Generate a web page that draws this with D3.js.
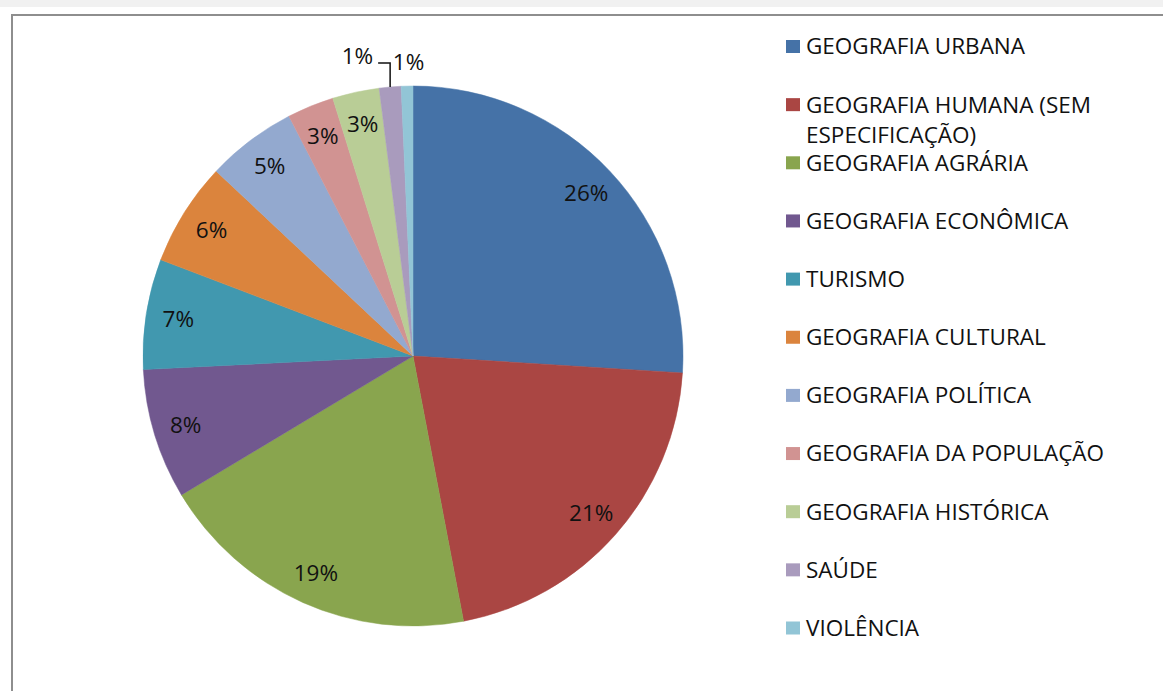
<!DOCTYPE html>
<html>
<head>
<meta charset="utf-8">
<script src="https://cdn.jsdelivr.net/npm/d3@7"></script>
<style>
  body { margin: 0; background: #fff; }
  svg { display: block; }
</style>
</head>
<body>
<div id="chart"></div>
<script>
// data (percent of total)
var categories = ["GEOGRAFIA URBANA", "GEOGRAFIA HUMANA (SEM ESPECIFICAÇÃO)", "GEOGRAFIA AGRÁRIA",
    "GEOGRAFIA ECONÔMICA", "TURISMO", "GEOGRAFIA CULTURAL", "GEOGRAFIA POLÍTICA",
    "GEOGRAFIA DA POPULAÇÃO", "GEOGRAFIA HISTÓRICA", "SAÚDE", "VIOLÊNCIA"]
var legend_lines = [["GEOGRAFIA URBANA"], ["GEOGRAFIA HUMANA (SEM", "ESPECIFICAÇÃO)"], ["GEOGRAFIA AGRÁRIA"],
    ["GEOGRAFIA ECONÔMICA"], ["TURISMO"], ["GEOGRAFIA CULTURAL"], ["GEOGRAFIA POLÍTICA"],
    ["GEOGRAFIA DA POPULAÇÃO"], ["GEOGRAFIA HISTÓRICA"], ["SAÚDE"], ["VIOLÊNCIA"]]
var values = [26.0, 21.0, 19.4, 7.8, 6.6, 6.2, 5.4, 2.8, 2.8, 1.3, 0.7]
var colors = ["#4572a7", "#aa4643", "#89a54e", "#71588f", "#4198af", "#db843d",
    "#93a9cf", "#d19392", "#b9cd96", "#a99bbd", "#92c5d6"]

var W = 1163, H = 691
var font = "'Open Sans', 'DejaVu Sans', sans-serif"
var font_size = 22.5

var svg = d3.select("#chart").append("svg")
    .attr("width", W)
    .attr("height", H)

// window chrome + chart frame
svg.append("rect").attr("x", 0).attr("y", 0).attr("width", W).attr("height", 7).attr("fill", "#f1f1f1")
svg.append("rect")
    .attr("x", 12).attr("y", 15)
    .attr("width", W + 20).attr("height", H + 20)
    .attr("fill", "#fff")
    .attr("stroke", "#8e8e8e")
    .attr("stroke-width", 2)

// PIE
var cx = 413, cy = 356, radius = 270
var label_r = radius * 0.88

var pie = d3.pie().sort(null).value(function(d){ return d })
var arcs = pie(values)
var arc = d3.arc().innerRadius(0).outerRadius(radius)
var label_arc = d3.arc().innerRadius(label_r).outerRadius(label_r)

var pie_g = svg.append("g").attr("transform", "translate(" + cx + "," + cy + ")")

pie_g.selectAll(".slice")
    .data(arcs).enter()
    .append("path")
    .attr("class", "slice")
    .attr("d", arc)
    .attr("fill", function(d, i){ return colors[i] })
    .attr("stroke", function(d, i){ return colors[i] })
    .attr("stroke-width", 0.5)

function pct(d){ return Math.round(d.value) + "%" }
function mid(d){ return (d.startAngle + d.endAngle) / 2 }

// labels inside the big slices
var inside = arcs.filter(function(d){ return d.value >= 2 })
pie_g.selectAll(".in_label")
    .data(inside).enter()
    .append("text")
    .attr("class", "in_label")
    .attr("transform", function(d){ return "translate(" + label_arc.centroid(d) + ")" })
    .attr("text-anchor", "middle")
    .attr("dy", "0.35em")
    .style("font-family", font)
    .style("font-size", font_size + "px")
    .style("fill", "#111")
    .text(pct)

// small slices: labels outside
var outside = arcs.filter(function(d){ return d.value < 2 })
var out_r = radius + 24
outside.forEach(function(d, k){
    var a = mid(d)
    var ex = radius * Math.sin(a), ey = -radius * Math.cos(a)
    var ox = out_r * Math.sin(a), oy = -out_r * Math.cos(a)
    if (k == 0) {
        // leader line: up from the slice edge then left to the label
        pie_g.append("path")
            .attr("d", "M" + ex + "," + ey + "V" + oy + "H" + (ex - 12))
            .attr("fill", "none")
            .attr("stroke", "#111")
            .attr("stroke-width", 1.5)
        pie_g.append("text")
            .attr("x", ex - 17)
            .attr("y", oy - 7)
            .attr("text-anchor", "end")
            .attr("dy", "0.35em")
            .style("font-family", font)
            .style("font-size", font_size + "px")
            .style("fill", "#111")
            .text(pct(d))
    } else {
        pie_g.append("text")
            .attr("x", ox + 2)
            .attr("y", oy)
            .attr("text-anchor", "middle")
            .attr("dy", "0.35em")
            .style("font-family", font)
            .style("font-size", font_size + "px")
            .style("fill", "#111")
            .text(pct(d))
    }
})

// LEGEND
var legend_y = d3.scaleLinear().domain([0, categories.length - 1]).range([46.5, 628])
var legend = svg.append("g")
var items = legend.selectAll(".legend_item")
    .data(categories).enter()
    .append("g")
    .attr("class", "legend_item")
    .attr("transform", function(d, i){ return "translate(786," + legend_y(i) + ")" })
items.append("rect")
    .attr("x", 0).attr("y", -6.5)
    .attr("width", 14).attr("height", 13)
    .attr("fill", function(d, i){ return colors[i] })
items.each(function(d, i){
    var t = d3.select(this).append("text")
        .attr("x", 20)
        .attr("y", 0)
        .style("font-family", font)
        .style("font-size", font_size + "px")
        .style("fill", "#111")
    legend_lines[i].forEach(function(line, j){
        t.append("tspan").attr("x", 20).attr("y", j * 30).attr("dy", "0.35em").text(line)
    })
})
</script>
</body>
</html>
